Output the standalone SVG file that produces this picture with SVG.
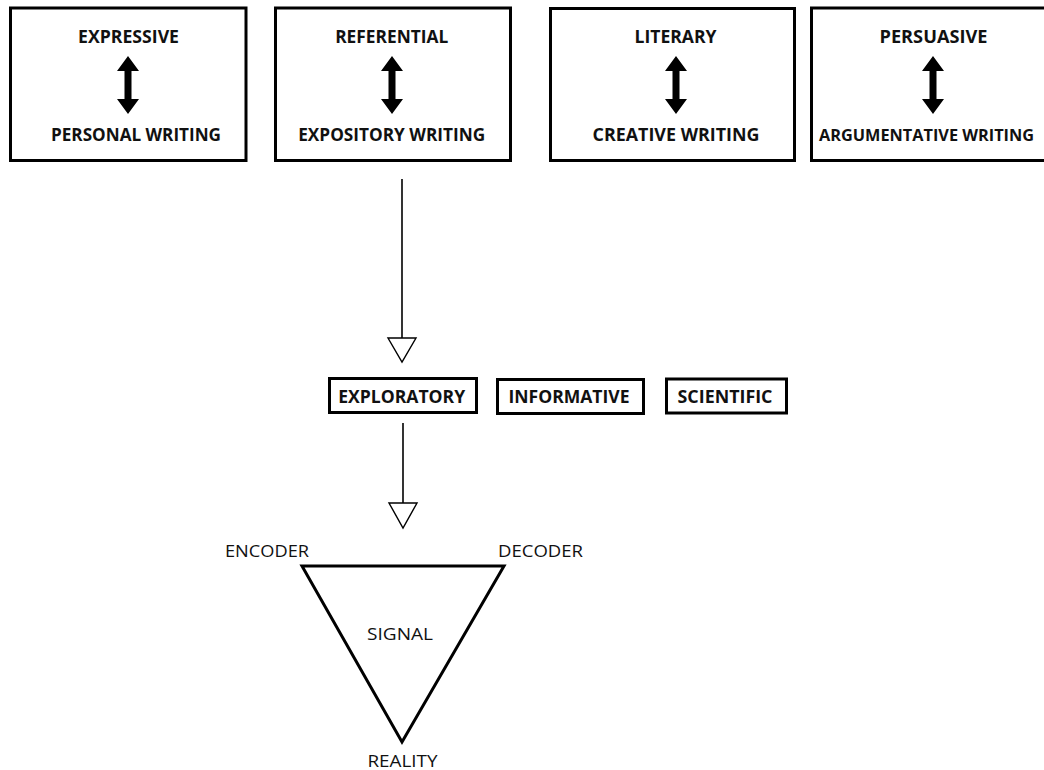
<svg xmlns="http://www.w3.org/2000/svg" xmlns:xlink="http://www.w3.org/1999/xlink" width="1044" height="770" viewBox="0 0 1044 770">
<style>
.box{fill:none;stroke:#000;stroke-width:3}
.sbox{fill:none;stroke:#000;stroke-width:3}
.b{font-family:"Open Sans","Liberation Sans",sans-serif;font-weight:bold;font-size:18.5px;fill:#111;text-anchor:middle}
.r{font-family:"Open Sans","Liberation Sans",sans-serif;font-size:17px;fill:#111;text-anchor:middle}
.ln{stroke:#000;stroke-width:1.6;fill:none}
.hd{fill:#fff;stroke:#000;stroke-width:1.4}
</style>
<defs>
<path id="dbl" d="M0,56 L11,71 L3.5,71 L3.5,99 L11,99 L0,114 L-11,99 L-3.5,99 L-3.5,71 L-11,71 Z" fill="#000"/>
</defs>
<rect width="1044" height="770" fill="#fff"/>
<g id="expressive">
<rect class="box" x="10.5" y="8" width="235.5" height="152.5"/>
<text class="b" x="128.5" y="43" textLength="101" lengthAdjust="spacingAndGlyphs">EXPRESSIVE</text>
<use xlink:href="#dbl" x="128"/>
<text class="b" x="136" y="141" textLength="170" lengthAdjust="spacingAndGlyphs">PERSONAL WRITING</text>
</g>
<g id="referential">
<rect class="box" x="275.5" y="8" width="235" height="152.5"/>
<text class="b" x="391.7" y="43" textLength="113" lengthAdjust="spacingAndGlyphs">REFERENTIAL</text>
<use xlink:href="#dbl" x="392"/>
<text class="b" x="391.7" y="141" textLength="187" lengthAdjust="spacingAndGlyphs">EXPOSITORY WRITING</text>
</g>
<g id="literary">
<rect class="box" x="550.5" y="8.5" width="244" height="152"/>
<text class="b" x="675.5" y="43" textLength="82" lengthAdjust="spacingAndGlyphs">LITERARY</text>
<use xlink:href="#dbl" x="676"/>
<text class="b" x="676" y="141" textLength="167" lengthAdjust="spacingAndGlyphs">CREATIVE WRITING</text>
</g>
<g id="persuasive">
<rect class="box" x="811.5" y="8" width="250" height="152.5"/>
<text class="b" x="933.5" y="43" textLength="108" lengthAdjust="spacingAndGlyphs">PERSUASIVE</text>
<use xlink:href="#dbl" x="933"/>
<text class="b" x="819" y="141" style="text-anchor:start;font-size:16.5px" textLength="215" lengthAdjust="spacingAndGlyphs">ARGUMENTATIVE WRITING</text>
</g>
<g id="connectors">
<line class="ln" x1="402" y1="179" x2="402" y2="338"/>
<polygon class="hd" points="388,338 416,338 402,362"/>
<line class="ln" x1="403" y1="423" x2="403" y2="503"/>
<polygon class="hd" points="389,503 417,503 403,528"/>
</g>
<g id="exploratory">
<rect class="sbox" x="329.5" y="378.5" width="147" height="34"/>
<text class="b" x="401.7" y="403" textLength="127" lengthAdjust="spacingAndGlyphs">EXPLORATORY</text>
</g>
<g id="informative">
<rect class="sbox" x="497.5" y="379.5" width="146" height="34"/>
<text class="b" x="569" y="403" textLength="121" lengthAdjust="spacingAndGlyphs">INFORMATIVE</text>
</g>
<g id="scientific">
<rect class="sbox" x="666.5" y="379" width="120" height="34"/>
<text class="b" x="725" y="403" textLength="95" lengthAdjust="spacingAndGlyphs">SCIENTIFIC</text>
</g>
<g id="signal-triangle">
<polygon points="302,566 504,566 402,742" fill="none" stroke="#000" stroke-width="3" stroke-linejoin="miter"/>
<text class="r" x="267" y="557" textLength="84" lengthAdjust="spacingAndGlyphs">ENCODER</text>
<text class="r" x="540.5" y="557" textLength="85" lengthAdjust="spacingAndGlyphs">DECODER</text>
<text class="r" x="400" y="640" textLength="66" lengthAdjust="spacingAndGlyphs">SIGNAL</text>
<text class="r" x="402.5" y="767" textLength="70" lengthAdjust="spacingAndGlyphs">REALITY</text>
</g>
</svg>
